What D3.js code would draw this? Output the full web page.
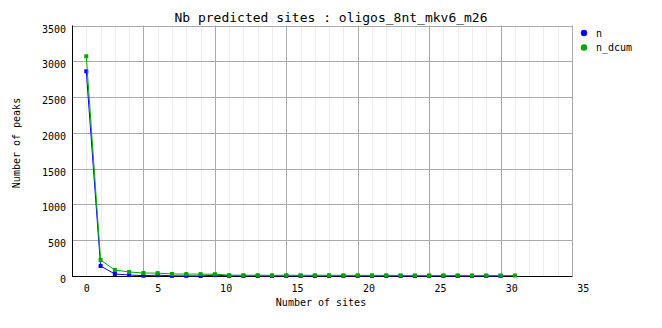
<!DOCTYPE html>
<html>
<head>
<meta charset="utf-8">
<script src="https://cdn.jsdelivr.net/npm/d3@7"></script>
<style>
  body { margin: 0; background: #fff; }
  svg text { font-family: "DejaVu Sans Mono", monospace; fill: #000; }
</style>
</head>
<body>
<svg id="chart" width="662" height="328"></svg>
<script>
// data
var titleText = 'Nb predicted sites : oligos_8nt_mkv6_m26';
var seriesNames = ['n', 'n_dcum'];
var seriesColors = ['#0000ff', '#00a800'];
var nVals = [2860, 140, 28, 14, 4, 12, 2, 2, 0, 12, 2, 1, 1, 1, 1, 1, 1, 1, 1, 1,
             1, 1, 1, 1, 1, 1, 1, 1, 1, 1];
var nDcumVals = [3070, 224, 84, 56, 42, 40, 28, 27, 26, 25, 12, 11, 11, 10, 10, 10,
                 10, 10, 9, 9, 9, 9, 8, 8, 8, 8, 8, 7, 7, 7, 7];
var xTickLabels = [0, 5, 10, 15, 20, 25, 30, 35];
var yTickLabels = [0, 500, 1000, 1500, 2000, 2500, 3000, 3500];

var svg = d3.select('#chart'),
    L = 72, R = 572, T = 25.5, B = 276;

// x is offset by one unit, like the original
var x = d3.scaleLinear().domain([-1, 34]).range([L, R]),
    y = d3.scaleLinear().domain([0, 3500]).range([B, T]);

// minor vertical grid
svg.append('g').selectAll('line')
  .data(d3.range(-1, 35))
  .enter().append('line')
  .attr('x1', function(d) { return Math.round(x(d)) + 0.5; })
  .attr('x2', function(d) { return Math.round(x(d)) + 0.5; })
  .attr('y1', T).attr('y2', B)
  .attr('stroke', '#eeeeee');

// major vertical grid
svg.append('g').selectAll('line')
  .data(xTickLabels.map(function(k) { return k - 1; }))
  .enter().append('line')
  .attr('x1', function(d) { return Math.round(x(d)) + 0.5; })
  .attr('x2', function(d) { return Math.round(x(d)) + 0.5; })
  .attr('y1', T).attr('y2', B)
  .attr('stroke', '#aaa');

// horizontal grid
svg.append('g').selectAll('line')
  .data(yTickLabels)
  .enter().append('line')
  .attr('x1', L).attr('x2', R)
  .attr('y1', function(d) { return Math.round(y(d)) + 0.5; })
  .attr('y2', function(d) { return Math.round(y(d)) + 0.5; })
  .attr('stroke', '#aaa');

// axes
svg.append('line').attr('x1', L + 0.5).attr('x2', L + 0.5)
  .attr('y1', T).attr('y2', B + 0.5).attr('stroke', '#000');
svg.append('line').attr('x1', L).attr('x2', R + 0.5)
  .attr('y1', B + 0.5).attr('y2', B + 0.5).attr('stroke', '#000');

// tick labels
svg.append('g').selectAll('text')
  .data(yTickLabels)
  .enter().append('text')
  .attr('x', 66)
  .attr('y', function(d) { return y(d) + 7; })
  .attr('text-anchor', 'end')
  .style('font-size', '10px')
  .text(function(d) { return d; });

svg.append('g').selectAll('text')
  .data(xTickLabels)
  .enter().append('text')
  .attr('x', function(d) { return x(d) + (String(d).length > 1 ? -3 : 0.5); })
  .attr('y', 292)
  .attr('text-anchor', 'middle')
  .style('font-size', '10px')
  .text(function(d) { return d; });

// titles
svg.append('text').attr('x', 331).attr('y', 22)
  .attr('text-anchor', 'middle').style('font-size', '13px')
  .text(titleText);
svg.append('text').attr('x', 321).attr('y', 306)
  .attr('text-anchor', 'middle').style('font-size', '10px')
  .text('Number of sites');
svg.append('text')
  .attr('transform', 'translate(20,143) rotate(-90)')
  .attr('text-anchor', 'middle').style('font-size', '10px')
  .text('Number of peaks');

// series
var line = d3.line()
  .x(function(d, i) { return x(i); })
  .y(function(d) { return y(d); });

[nVals, nDcumVals].forEach(function(vals, s) {
  var g = svg.append('g');
  g.append('path')
    .datum(vals)
    .attr('d', line)
    .attr('fill', 'none')
    .attr('stroke', seriesColors[s])
    .attr('stroke-width', 1);
  g.selectAll('rect')
    .data(vals)
    .enter().append('rect')
    .attr('x', function(d, i) { return x(i) - 2; })
    .attr('y', function(d) { return y(d) - 2; })
    .attr('width', 4).attr('height', 4)
    .attr('fill', seriesColors[s]);
});

// legend
var lg = svg.append('g').selectAll('g')
  .data(seriesNames)
  .enter().append('g')
  .attr('transform', function(d, i) { return 'translate(584,' + (33 + i * 14.5) + ')'; });
lg.append('circle').attr('r', 3.2)
  .attr('fill', function(d, i) { return seriesColors[i]; });
lg.append('text').attr('x', 12).attr('y', 3.5)
  .style('font-size', '10px')
  .text(function(d) { return d; });
</script>
</body>
</html>
